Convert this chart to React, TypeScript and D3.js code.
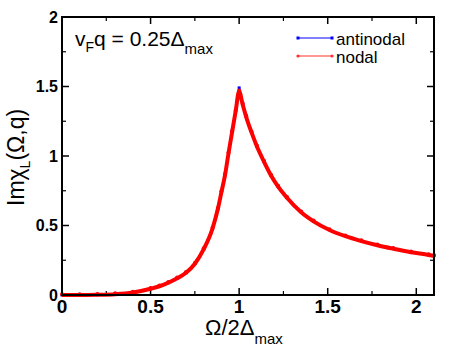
import React from "react";
import * as d3 from "d3";

// sampled points of Im chi_L(Omega, q) vs Omega / 2 Delta_max
const omega = [0, 0.1, 0.2, 0.3, 0.4, 0.5, 0.55, 0.6, 0.65, 0.7, 0.75, 0.8, 0.85, 0.88, 0.9, 0.92, 0.94, 0.96, 0.98, 1.0,
  1.02, 1.04, 1.07, 1.1, 1.14, 1.18, 1.22, 1.27, 1.35, 1.42, 1.51, 1.6, 1.69, 1.78, 1.87, 1.97, 2.07, 2.1];
const antinodal = [0, 0.0005, 0.002, 0.006, 0.018, 0.045, 0.063, 0.088, 0.12, 0.16, 0.225, 0.33, 0.48, 0.62, 0.74, 0.87, 1.03, 1.18, 1.33, 1.49,
  1.38, 1.29, 1.17, 1.07, 0.96, 0.86, 0.78, 0.70, 0.60, 0.53, 0.47, 0.425, 0.39, 0.36, 0.335, 0.31, 0.29, 0.283];
const nodal = [0, 0.0005, 0.002, 0.006, 0.018, 0.045, 0.063, 0.088, 0.12, 0.16, 0.225, 0.33, 0.48, 0.62, 0.74, 0.86, 1.02, 1.17, 1.32, 1.465,
  1.37, 1.28, 1.17, 1.07, 0.96, 0.86, 0.78, 0.70, 0.595, 0.53, 0.468, 0.423, 0.388, 0.358, 0.333, 0.308, 0.288, 0.281];

const xTicks = [0, 0.5, 1, 1.5, 2];
const xTickLabels = ["0", "0.5", "1", "1.5", "2"];
const yTicks = [0, 0.5, 1, 1.5, 2];
const yTickLabels = ["0", "0.5", "1", "1.5", "2"];
const xMinor = [0.25, 0.75, 1.25, 1.75];
const yMinor = [0.25, 0.75, 1.25, 1.75];

export default function App() {
  const left = 62, right = 434, top = 17, bottom = 295;
  const x = d3.scaleLinear().domain([0, 2.1]).range([left, right]);
  const y = d3.scaleLinear().domain([0, 2]).range([bottom, top]);

  const line = d3.line<number>()
    .x((d, i) => x(omega[i]))
    .y(d => y(d))
    .curve(d3.curveMonotoneX);

  const major = 7, minor = 4;
  const font = "'Liberation Sans', Arial, Helvetica, sans-serif";

  return (
    <svg width={449} height={347} style={{ position: "absolute", left: 0, top: 0, background: "#fff" }}
      fontFamily={font}>
      {/* ticks, all four sides, pointing inward */}
      {xTicks.map(t => (
        <g key={"xm" + t} stroke="#000" strokeWidth={1.5}>
          <line x1={x(t)} x2={x(t)} y1={bottom} y2={bottom - major} />
          <line x1={x(t)} x2={x(t)} y1={top} y2={top + major} />
        </g>
      ))}
      {xMinor.map(t => (
        <g key={"xn" + t} stroke="#000" strokeWidth={1.2}>
          <line x1={x(t)} x2={x(t)} y1={bottom} y2={bottom - minor} />
          <line x1={x(t)} x2={x(t)} y1={top} y2={top + minor} />
        </g>
      ))}
      {yTicks.map(t => (
        <g key={"ym" + t} stroke="#000" strokeWidth={1.5}>
          <line x1={left} x2={left + major} y1={y(t)} y2={y(t)} />
          <line x1={right} x2={right - major} y1={y(t)} y2={y(t)} />
        </g>
      ))}
      {yMinor.map(t => (
        <g key={"yn" + t} stroke="#000" strokeWidth={1.2}>
          <line x1={left} x2={left + minor} y1={y(t)} y2={y(t)} />
          <line x1={right} x2={right - minor} y1={y(t)} y2={y(t)} />
        </g>
      ))}

      {/* curves */}
      <path d={line(antinodal) || ""} fill="none" stroke="#0000ff" strokeWidth={1.3} />
      {antinodal.map((v, i) => (
        <rect key={"a" + i} x={x(omega[i]) - 1.5} y={y(v) - 1.5} width={3} height={3} fill="#0000ff" />
      ))}
      <path d={line(nodal) || ""} fill="none" stroke="#ff0000" strokeWidth={4} />
      {nodal.map((v, i) => (
        <circle key={"n" + i} cx={x(omega[i])} cy={y(v) - 0.8} r={2} fill="#ff0000" />
      ))}

      {/* frame */}
      <rect x={left} y={top} width={right - left} height={bottom - top} fill="none" stroke="#000" strokeWidth={2} />

      {/* tick labels */}
      {xTicks.map((t, i) => (
        <text key={"xl" + t} x={x(t)} y={313} textAnchor="middle" fontSize={19} fontWeight="bold">{xTickLabels[i]}</text>
      ))}
      {yTicks.map((t, i) => (
        <text key={"yl" + t} x={58} y={y(t) + 5.5} textAnchor="end" fontSize={16} fontWeight="bold">{yTickLabels[i]}</text>
      ))}

      {/* axis titles */}
      <text x={205} y={335} fontSize={22}>
        Ω/2Δ<tspan fontSize={15} dy={9}>max</tspan>
      </text>
      <text transform="translate(24,206) rotate(-90)" fontSize={23}>
        Imχ<tspan fontSize={14} dy={6}>L</tspan><tspan dy={-6}>(Ω,q)</tspan>
      </text>

      {/* annotation */}
      <text x={75} y={46} fontSize={21}>
        v<tspan fontSize={14} dy={6}>F</tspan><tspan dy={-6}>q = 0.25Δ</tspan><tspan fontSize={15} dy={8}>max</tspan>
      </text>

      {/* legend */}
      <line x1={298} x2={332} y1={38} y2={38} stroke="#0000ff" strokeWidth={1.2} />
      <rect x={296.5} y={36.5} width={3} height={3} fill="#0000ff" />
      <rect x={330.5} y={36.5} width={3} height={3} fill="#0000ff" />
      <text x={336} y={44.5} fontSize={17}>antinodal</text>
      <line x1={298} x2={332} y1={56} y2={56} stroke="#ff3030" strokeWidth={1.2} />
      <circle cx={298} cy={56} r={1.6} fill="#ff3030" />
      <circle cx={332} cy={56} r={1.6} fill="#ff3030" />
      <text x={336} y={63} fontSize={17}>nodal</text>
    </svg>
  );
}
